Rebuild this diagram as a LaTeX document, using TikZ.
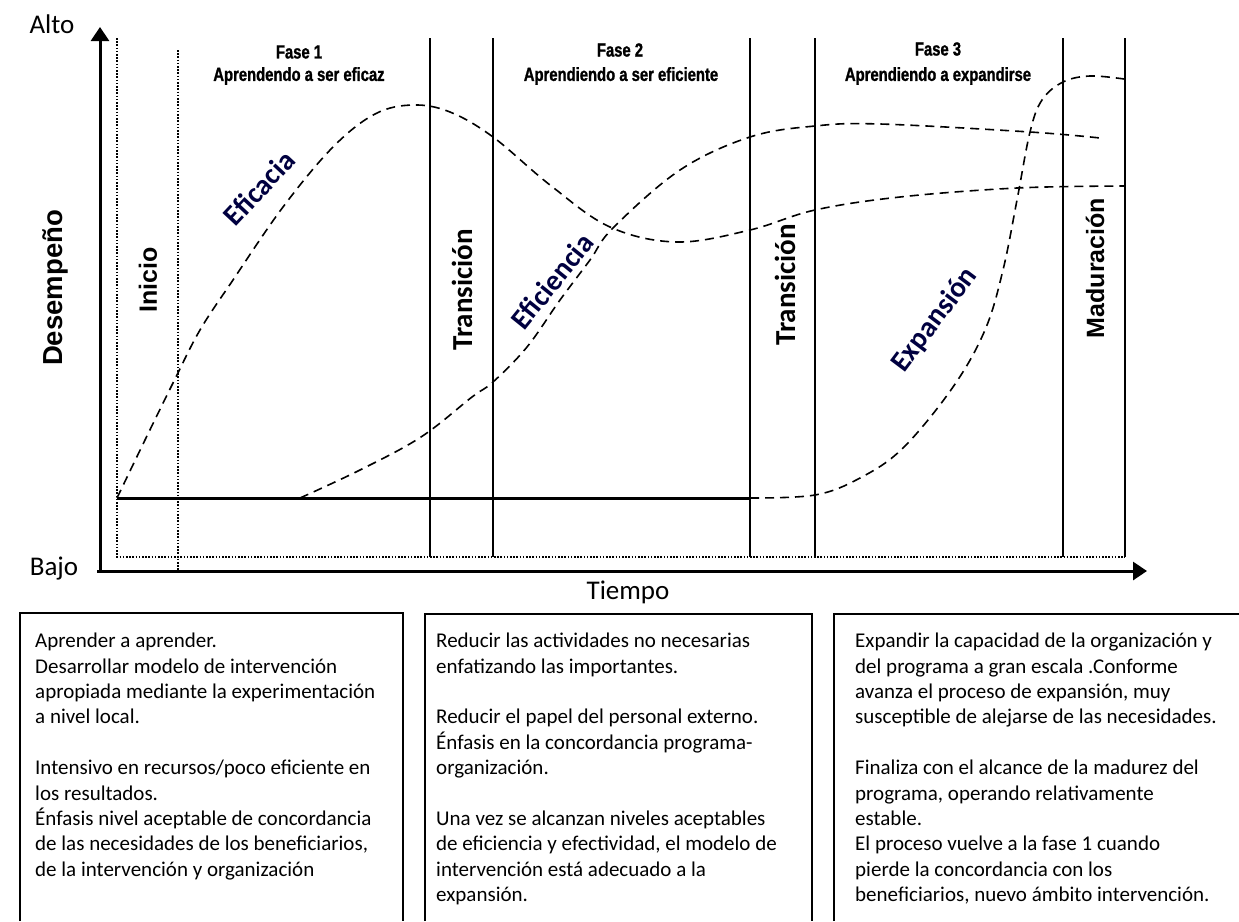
\documentclass[tikz,border=0pt]{standalone}
\usepackage{fontspec}
\setmainfont{Carlito}
\newfontfamily\arialf{Liberation Sans}
\newfontfamily\fasef{Liberation Sans}[FakeStretch=0.78,FakeBold=1.2]
\usetikzlibrary{arrows.meta}
\begin{document}
\begin{tikzpicture}[x=1pt,y=-1pt,
  vline/.style={line width=1.7pt},
  dotline/.style={line width=2pt, dash pattern=on 1.6pt off 1.6pt},
  curve/.style={line width=1.6pt, dash pattern=on 9pt off 6pt},
  axisline/.style={line width=3pt, -{Triangle[length=14pt,width=18pt]}},
  vlab/.style={rotate=90, font=\arialf\bfseries\fontsize{25}{30}\selectfont},
  tlab/.style={rotate=90, font=\bfseries\fontsize{29}{32}\selectfont},
  clab/.style={font=\bfseries\fontsize{29}{32}\selectfont, fill=white, inner sep=2pt, text=black!75!blue},
  fase/.style={font=\fasef\bfseries\fontsize{19}{24}\selectfont},
  axlab/.style={font=\fontsize{27}{30}\selectfont},
  boxline/.style={line width=1.8pt},
  boxtext/.style={anchor=north west, align=left, font=\fontsize{21}{25.4}\selectfont, inner sep=0pt}
]
\useasboundingbox (0,0) rectangle (1239,921);
% dotted frame
\draw[dotline] (117,38) -- (117,557) -- (1125,557);
\draw[dotline] (178,50) -- (178,571);
% phase separators
\foreach \xx in {430,493,750,815,1063,1125}
  \draw[vline] (\xx,38) -- (\xx,557);
% base line
\draw[line width=3pt] (117,498) -- (750,498);
% axes
\coordinate (o) at (100,571);
\coordinate (ytop) at (100,27);
\coordinate (xstart) at (97,571);
\coordinate (xend) at (1147,571);
\draw[axisline] (o) -- (ytop);
\draw[axisline] (xstart) -- (xend);
\node[axlab] (alto) at (52,24) {Alto};
\node[axlab] (bajo) at (54,569) {Bajo};
\node[axlab] (tiempo) at (628,592) {Tiempo};
% curves
\draw[curve] plot[smooth, tension=0.6] coordinates {(117,498) (145,440) (173,383) (200,330) (233,280) (283,207) (333,147) (375,114) (413,105) (450,112) (493,137) (550,185) (610,227) (677,242) (750,230) (815,210) (900,197) (1017,188) (1124,186)};
\draw[curve] plot[smooth, tension=0.6] coordinates {(300,498) (360,470) (421,437) (472,397) (493,382) (527,347) (560,300) (590,260) (613,228) (680,170) (750,137) (815,126) (880,124) (1030,132) (1100,138)};
\draw[curve] plot[smooth, tension=0.6] coordinates {(750,498) (815,495) (860,478) (903,448) (953,387) (985,330) (1003,270) (1017,200) (1030,132) (1042,100) (1063,82) (1090,76) (1124,79)};
% curve labels
\node[clab, rotate=47] (eficacia) at (259,188) {Eficacia};
\node[clab, rotate=51] (eficiencia) at (552,281) {Eficiencia};
\node[clab, rotate=53] (expansion) at (935,320) {Expansión};
% vertical labels
\node[vlab, font=\arialf\bfseries\fontsize{27.5}{30}\selectfont] (desemp) at (55,288) {Desempeño};
\node[vlab] (inicio) at (148,280) {Inicio};
\node[tlab] (trans1) at (462,290) {Transición};
\node[tlab] (trans2) at (785,285) {Transición};
\node[vlab] (madur) at (1095,268) {Maduración};
% phase headers
\node[fase] (f1) at (299,52) {Fase 1};
\node[fase] (f1s) at (299,76) {Aprendendo a ser eficaz};
\node[fase] (f2) at (620,50) {Fase 2};
\node[fase] (f2s) at (621,76) {Aprendiendo a ser eficiente};
\node[fase] (f3) at (938,49) {Fase 3};
\node[fase] (f3s) at (938,76) {Aprendiendo a expandirse};
% boxes (open at the bottom)
\draw[boxline] (20,921) |- (403,613) -- (403,921);
\draw[boxline] (425,921) |- (812,614) -- (812,921);
\draw[boxline] (834,921) |- (1250,614);
\node[boxtext] (t1) at (35,633) {Aprender a aprender.\\Desarrollar modelo de intervención\\apropiada mediante la experimentación\\a nivel local.\\[25.4pt]Intensivo en recursos/poco eficiente en\\los resultados.\\Énfasis nivel aceptable de concordancia\\de las necesidades de los beneficiarios,\\de la intervención y organización};
\node[boxtext] (t2) at (436,633) {Reducir las actividades no necesarias\\enfatizando las importantes.\\[25.4pt]Reducir el papel del personal externo.\\Énfasis en la concordancia programa-\\organización.\\[25.4pt]Una vez se alcanzan niveles aceptables\\de eficiencia y efectividad, el modelo de\\intervención está adecuado a la\\expansión.};
\node[boxtext] (t3) at (855,633) {Expandir la capacidad de la organización y\\del programa a gran escala .Conforme\\avanza el proceso de expansión, muy\\susceptible de alejarse de las necesidades.\\[25.4pt]Finaliza con el alcance de la madurez del\\programa, operando relativamente\\estable.\\El proceso vuelve a la fase 1 cuando\\pierde la concordancia con los\\beneficiarios, nuevo ámbito intervención.};
\end{tikzpicture}
\end{document}
